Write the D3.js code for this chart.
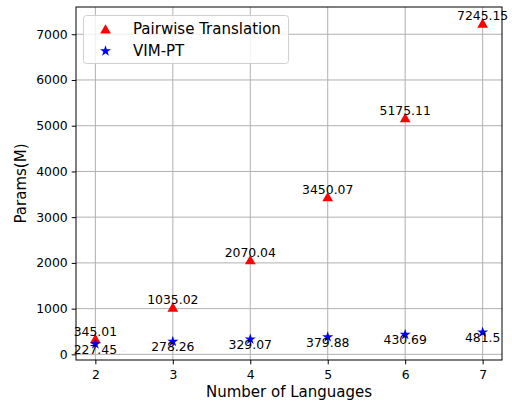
<!DOCTYPE html>
<html>
<head>
<meta charset="utf-8">
<script src="https://cdn.jsdelivr.net/npm/d3@7"></script>
<style>
  body { margin: 0; background: #fff; }
  svg { display: block; font-family: "DejaVu Sans", sans-serif; }
</style>
</head>
<body>
<div id="chart"></div>
<script>
const languages = [2, 3, 4, 5, 6, 7];
const pairwise = [345.01, 1035.02, 2070.04, 3450.07, 5175.11, 7245.15];
const vimPt = [227.45, 278.26, 329.07, 379.88, 430.69, 481.5];
const yTicks = [0, 1000, 2000, 3000, 4000, 5000, 6000, 7000];

const width = 512, height = 404;
const plotL = 76, plotR = 502, plotT = 7, plotB = 360;

const svg = d3.select('#chart').append('svg')
  .attr('width', width).attr('height', height);

// matplotlib style 5% margins
const x = d3.scaleLinear().domain([1.75, 7.25]).range([plotL, plotR]);
const yMin = 227.45, yMax = 7245.15, pad = (yMax - yMin) * 0.05;
const y = d3.scaleLinear().domain([yMin - pad, yMax + pad]).range([plotB, plotT]);

// grid
const grid = svg.append('g').attr('stroke', '#b0b0b0').attr('stroke-width', 1);
grid.selectAll('.gx').data(languages).join('line')
  .attr('x1', d => x(d)).attr('x2', d => x(d))
  .attr('y1', plotT).attr('y2', plotB);
grid.selectAll('.gy').data(yTicks).join('line')
  .attr('x1', plotL).attr('x2', plotR)
  .attr('y1', d => y(d)).attr('y2', d => y(d));

// axes
const xAxis = svg.append('g')
  .attr('transform', `translate(0,${plotB})`)
  .call(d3.axisBottom(x).tickValues(languages).tickSize(4.3).tickPadding(4).tickFormat(d3.format('d')));
const yAxis = svg.append('g')
  .attr('transform', `translate(${plotL},0)`)
  .call(d3.axisLeft(y).tickValues(yTicks).tickSize(4.3).tickPadding(4).tickFormat(d3.format('d')));
[xAxis, yAxis].forEach(a => {
  a.select('.domain').remove();
  a.selectAll('text').style('font-size', '12.4px').style('fill', '#000')
    .style('font-family', '"DejaVu Sans", sans-serif');
  a.selectAll('line').attr('stroke', '#000');
});
xAxis.selectAll('text').attr('dy', null).attr('y', 18.5);

svg.append('rect')
  .attr('x', plotL).attr('y', plotT)
  .attr('width', plotR - plotL).attr('height', plotB - plotT)
  .attr('fill', 'none').attr('stroke', '#000').attr('stroke-width', 1);

// marks
const tri = d3.symbol().type(d3.symbolTriangle).size(50);
const star = d3.symbol().type(d3.symbolStar).size(38);

svg.append('g').selectAll('path').data(languages).join('path')
  .attr('d', tri)
  .attr('transform', (d, i) => `translate(${x(d)},${y(pairwise[i]) + 1.5})`)
  .attr('fill', 'red');

svg.append('g').selectAll('path').data(languages).join('path')
  .attr('d', star)
  .attr('transform', (d, i) => `translate(${x(d)},${y(vimPt[i])})`)
  .attr('fill', 'blue');

// annotations
svg.append('g').selectAll('text').data(languages).join('text')
  .attr('x', d => x(d))
  .attr('y', (d, i) => y(pairwise[i]) - 3)
  .attr('text-anchor', 'middle')
  .style('font-size', '12.4px').style('fill', '#000')
  .text((d, i) => String(pairwise[i]));

svg.append('g').selectAll('text').data(languages).join('text')
  .attr('x', d => x(d))
  .attr('y', (d, i) => y(vimPt[i]) + 9.8)
  .attr('text-anchor', 'middle')
  .style('font-size', '12.4px').style('fill', '#000')
  .text((d, i) => String(vimPt[i]));

// axis labels
svg.append('text')
  .attr('x', (plotL + plotR) / 2).attr('y', 397)
  .attr('text-anchor', 'middle')
  .style('font-size', '15px').style('fill', '#000')
  .text('Number of Languages');

svg.append('text')
  .attr('transform', `translate(26,${(plotT + plotB) / 2}) rotate(-90)`)
  .attr('text-anchor', 'middle')
  .style('font-size', '15px').style('fill', '#000')
  .text('Params(M)');

// legend
const legend = svg.append('g');
legend.append('rect')
  .attr('x', 83.5).attr('y', 15.5).attr('width', 205).attr('height', 48)
  .attr('rx', 3).attr('fill', 'rgba(255,255,255,0.8)')
  .attr('stroke', '#d0d0d0').attr('stroke-width', 1);
const entries = [
  { label: 'Pairwise Translation', sym: tri, color: 'red', cy: 29 },
  { label: 'VIM-PT', sym: star, color: 'blue', cy: 51 }
];
entries.forEach(e => {
  legend.append('path').attr('d', e.sym)
    .attr('transform', `translate(105.5,${e.cy + (e.color === 'red' ? 1.5 : 0)})`)
    .attr('fill', e.color);
  legend.append('text')
    .attr('x', 133).attr('y', e.cy + 4.5)
    .style('font-size', '15px').style('fill', '#000')
    .text(e.label);
});
</script>
</body>
</html>
